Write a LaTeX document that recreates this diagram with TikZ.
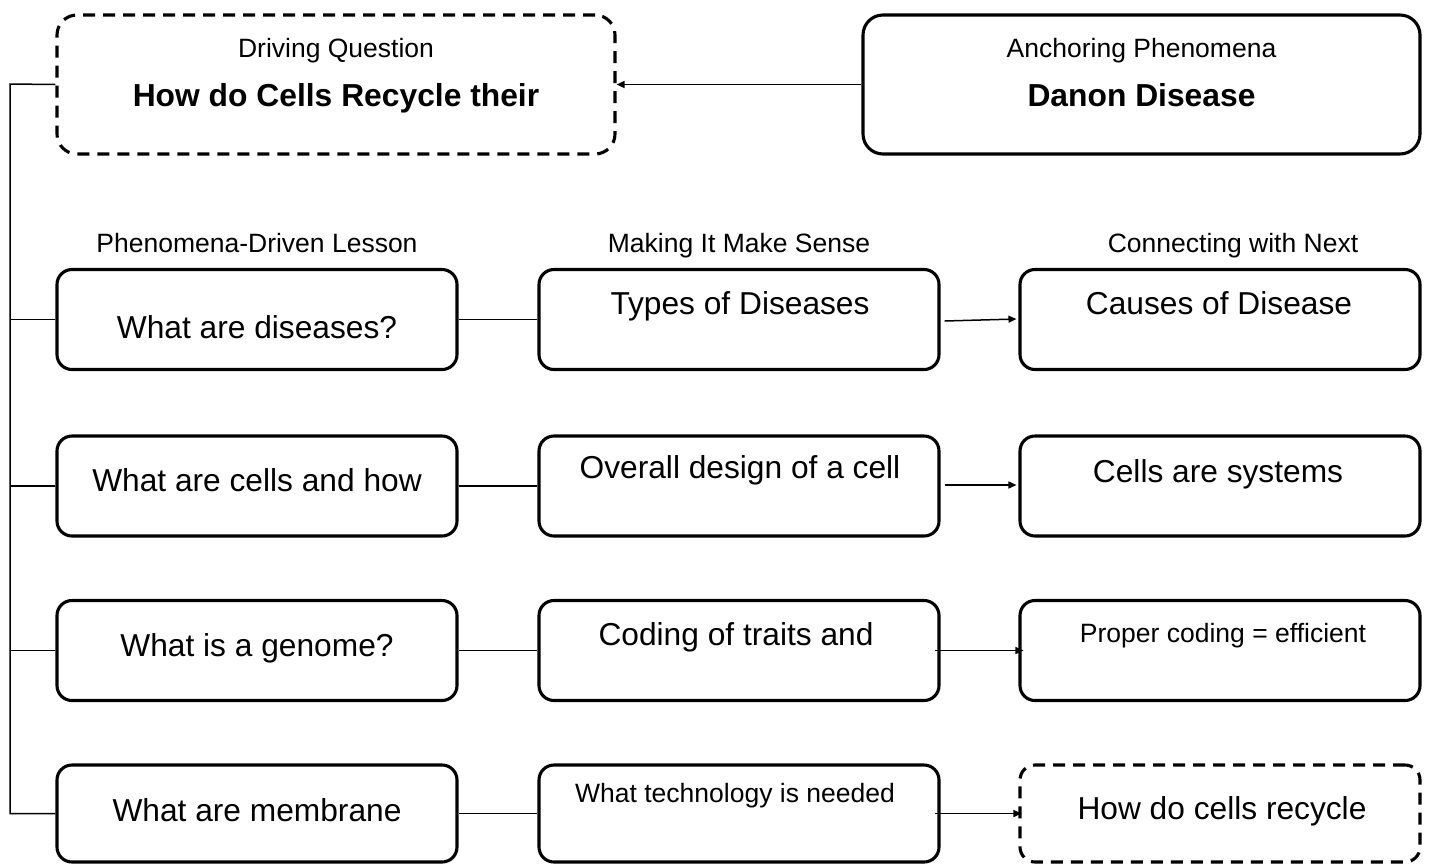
\documentclass[tikz,border=0pt]{standalone}
\usepackage{fontspec}
\setmainfont{Liberation Sans}
\usetikzlibrary{arrows.meta,calc}
\begin{document}
\begin{tikzpicture}[x=1pt,y=-1pt,
  box/.style={draw,line width=3.1pt,rounded corners=15pt,minimum width=400pt,minimum height=100pt,inner sep=0pt},
  topbox/.style={box,rounded corners=20pt,minimum height=139pt},
  dashedge/.style={dash pattern=on 12pt off 8pt},
  small/.style={font=\fontsize{26.5}{30}\selectfont,anchor=base,inner sep=0pt},
  big/.style={font=\fontsize{31.7}{36}\selectfont,anchor=base,inner sep=0pt},
  bigb/.style={font=\fontsize{31.8}{36}\selectfont\bfseries,anchor=base,inner sep=0pt},
  link/.style={line width=1.5pt},
  arr/.style={link,-{Triangle[length=8pt,width=7pt]}}]
\useasboundingbox (0,0) rectangle (1431,863);

% top row: driving question and anchoring phenomenon
\node[topbox,dashedge,minimum width=558pt] (dq) at (336,84.5) {};
\node[topbox,minimum width=557pt] (ap) at (1141.5,84.5) {};
\node[small] (dqt) at (336,57) {Driving Question};
\node[bigb] (dqq) at (336,106) {How do Cells Recycle their};
\node[small] (apt) at (1141.5,57) {Anchoring Phenomena};
\node[bigb] (apq) at (1141.5,106) {Danon Disease};

% column headings
\node[small] (h1) at (257,252) {Phenomena-Driven Lesson};
\node[small] (h2) at (739,252) {Making It Make Sense};
\node[small] (h3) at (1233,252) {Connecting with Next};

% lesson boxes
\node[box] (a1) at (257,319.5) {};
\node[box] (b1) at (739,319.5) {};
\node[box] (c1) at (1220,319.5) {};
\node[box] (a2) at (257,486) {};
\node[box] (b2) at (739,486) {};
\node[box] (c2) at (1220,486) {};
\node[box] (a3) at (257,650.5) {};
\node[box] (b3) at (739,650.5) {};
\node[box] (c3) at (1220,650.5) {};
\node[box,minimum height=97pt] (a4) at (257,813.5) {};
\node[box,minimum height=97pt] (b4) at (739,813.5) {};
\node[box,dashedge,minimum height=97pt] (c4) at (1220,813.5) {};

% box texts
\node[big] (ta1) at (257,338) {What are diseases?};
\node[big] (tb1) at (740,314) {Types of Diseases};
\node[big] (tc1) at (1219,314) {Causes of Disease};
\node[big] (ta2) at (257,491) {What are cells and how};
\node[big] (tb2) at (740,478) {Overall design of a cell};
\node[big] (tc2) at (1218,482) {Cells are systems};
\node[big] (ta3) at (257,656) {What is a genome?};
\node[big] (tb3) at (736,645) {Coding of traits and};
\node[small] (tc3) at (1223,642) {Proper coding = efficient};
\node[big] (ta4) at (257,821) {What are membrane};
\node[small] (tb4) at (735,802) {What technology is needed};
\node[big] (tc4) at (1222,819) {How do cells recycle};

% connectors
\draw[arr] (ap.west) -- (dq.east);
\coordinate (bus) at (10,84);
\draw[link] (dq.west) -- (bus) |- (a4.west);
\draw[link] (a1.west) -- (a1.west -| bus);
\draw[link] (a2.west) -- (a2.west -| bus);
\draw[link] (a3.west) -- (a3.west -| bus);

\draw[link] (a1.east) -- (b1.west);
\draw[link] (a2.east) -- (b2.west);
\draw[link] (a3.east) -- (b3.west);
\draw[link] (a4.east) -- (b4.west);

\draw[arr] ($(b1.east)+(4,1.5)$) -- ($(c1.west)+(-2,-0.5)$);
\draw[arr] ($(b2.east)+(4,-1)$) -- ($(c2.west)+(-2,-1)$);
\draw[arr,shorten <=-6pt,shorten >=-5pt] (b3.east) -- (c3.west);
\draw[arr,shorten <=-6pt,shorten >=-3pt] (b4.east) -- (c4.west);
\end{tikzpicture}
\end{document}
